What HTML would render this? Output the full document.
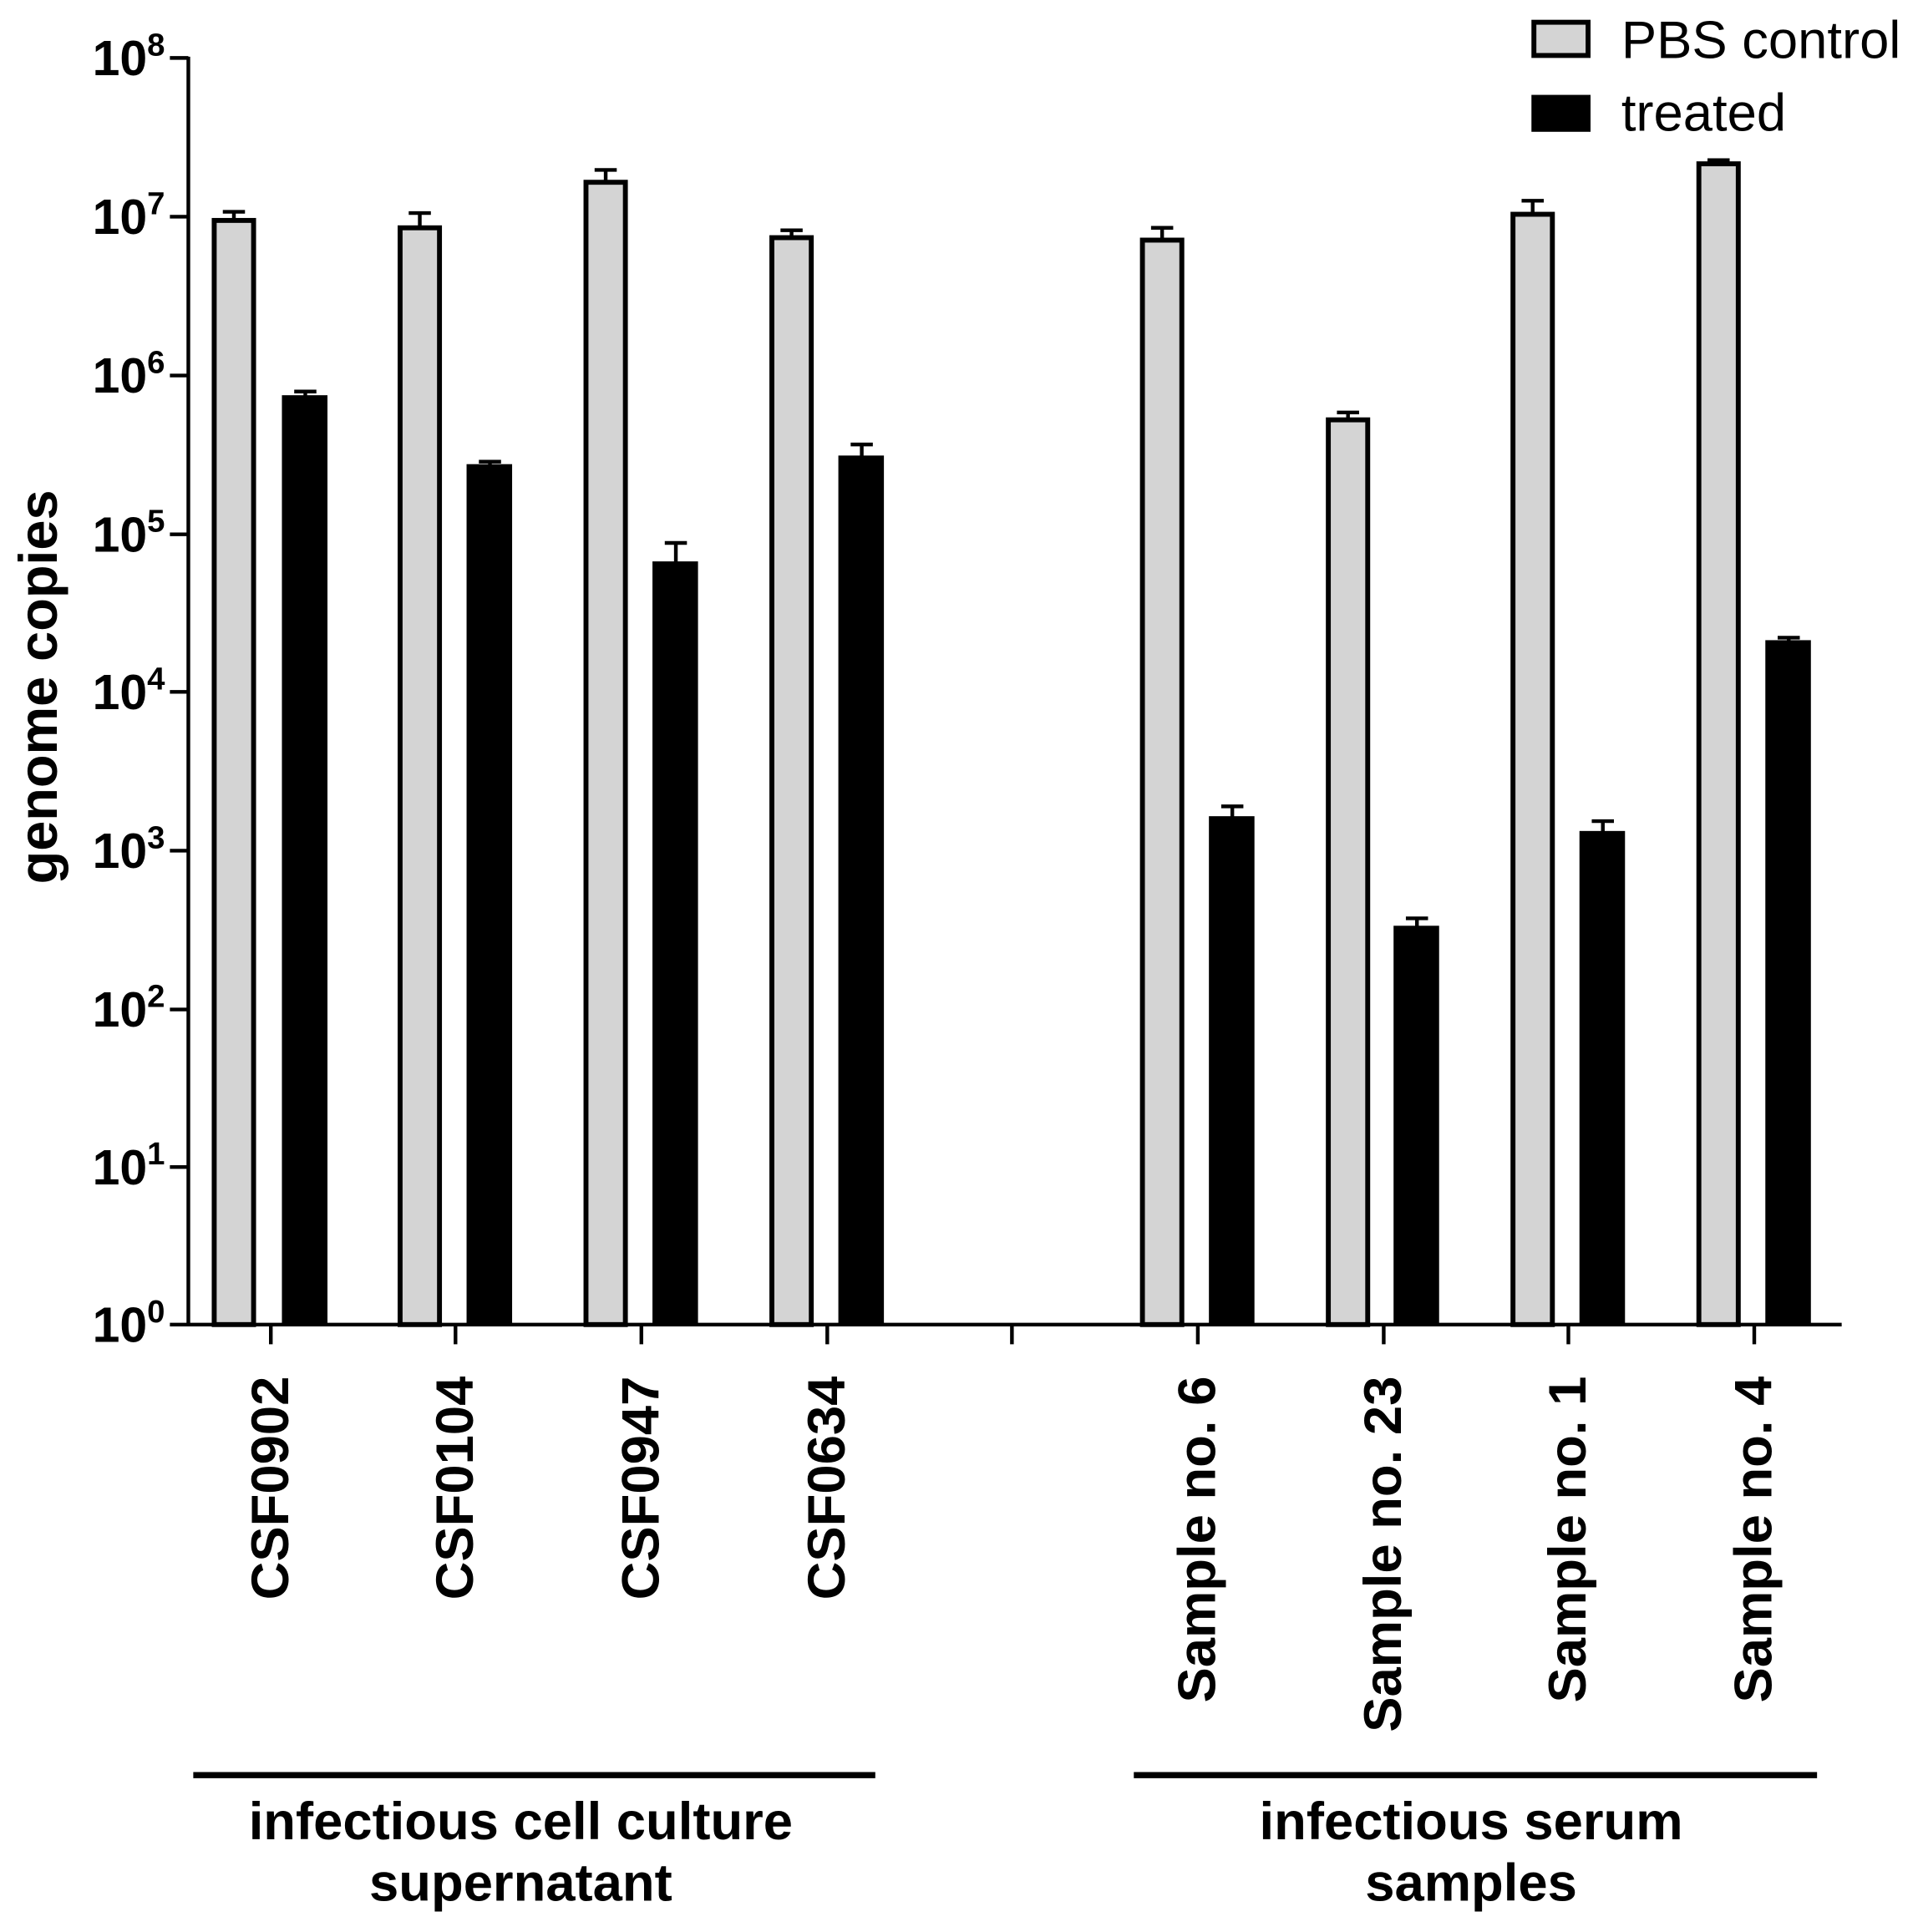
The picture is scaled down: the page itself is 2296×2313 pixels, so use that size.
<!DOCTYPE html>
<html><head><style>html,body{margin:0;padding:0;background:#fff}</style></head><body>
<svg width="2296" height="2308" viewBox="0 0 1558 1566" xmlns="http://www.w3.org/2000/svg" font-family="Liberation Sans, Arial, sans-serif">
<rect width="1558" height="1566" fill="#fff"/>
<g stroke="#000" stroke-width="3" fill="none">
<line x1="153" y1="46" x2="153" y2="1077"/>
<line x1="152" y1="1076" x2="1496" y2="1076"/>
<line x1="138" y1="47" x2="153" y2="47"/><line x1="138" y1="176" x2="153" y2="176"/>
<line x1="138" y1="305" x2="153" y2="305"/><line x1="138" y1="434" x2="153" y2="434"/>
<line x1="138" y1="562" x2="153" y2="562"/><line x1="138" y1="691" x2="153" y2="691"/>
<line x1="138" y1="820" x2="153" y2="820"/><line x1="138" y1="948" x2="153" y2="948"/>
<line x1="138" y1="1076" x2="153" y2="1076"/>
<line x1="220" y1="1076" x2="220" y2="1092"/><line x1="370" y1="1076" x2="370" y2="1092"/>
<line x1="521" y1="1076" x2="521" y2="1092"/><line x1="672" y1="1076" x2="672" y2="1092"/>
<line x1="822" y1="1076" x2="822" y2="1092"/><line x1="973" y1="1076" x2="973" y2="1092"/>
<line x1="1124" y1="1076" x2="1124" y2="1092"/><line x1="1274" y1="1076" x2="1274" y2="1092"/>
<line x1="1425" y1="1076" x2="1425" y2="1092"/>
<line x1="157" y1="1442" x2="711" y2="1442" stroke-width="5"/>
<line x1="921" y1="1442" x2="1476" y2="1442" stroke-width="5"/>
</g>
<g font-weight="bold" font-size="40" text-anchor="end" fill="#000">
<text x="134" y="61">10<tspan font-size="26" dy="-16">8</tspan></text>
<text x="134" y="190">10<tspan font-size="26" dy="-16">7</tspan></text>
<text x="134" y="319">10<tspan font-size="26" dy="-16">6</tspan></text>
<text x="134" y="448">10<tspan font-size="26" dy="-16">5</tspan></text>
<text x="134" y="576">10<tspan font-size="26" dy="-16">4</tspan></text>
<text x="134" y="705">10<tspan font-size="26" dy="-16">3</tspan></text>
<text x="134" y="834">10<tspan font-size="26" dy="-16">2</tspan></text>
<text x="134" y="962">10<tspan font-size="26" dy="-16">1</tspan></text>
<text x="134" y="1090">10<tspan font-size="26" dy="-16">0</tspan></text>
</g>
<text transform="translate(46,558) rotate(-90)" text-anchor="middle" font-weight="bold" font-size="44">genome copies</text>
<g stroke="#000" stroke-width="3">
<line x1="190" y1="172" x2="190" y2="180"/><line x1="181" y1="172" x2="199" y2="172"/>
<line x1="341" y1="173" x2="341" y2="186"/><line x1="332" y1="173" x2="350" y2="173"/>
<line x1="492" y1="138" x2="492" y2="149"/><line x1="483" y1="138" x2="501" y2="138"/>
<line x1="643" y1="187" x2="643" y2="194"/><line x1="634" y1="187" x2="652" y2="187"/>
<line x1="944" y1="185" x2="944" y2="196"/><line x1="935" y1="185" x2="953" y2="185"/>
<line x1="1095" y1="335" x2="1095" y2="342"/><line x1="1086" y1="335" x2="1104" y2="335"/>
<line x1="1245" y1="163" x2="1245" y2="175"/><line x1="1236" y1="163" x2="1254" y2="163"/>
<line x1="1396" y1="130" x2="1396" y2="134"/><line x1="1387" y1="130" x2="1405" y2="130"/>
<line x1="248" y1="318" x2="248" y2="323"/><line x1="239" y1="318" x2="257" y2="318"/>
<line x1="398" y1="375" x2="398" y2="379"/><line x1="389" y1="375" x2="407" y2="375"/>
<line x1="549" y1="441" x2="549" y2="458"/><line x1="540" y1="441" x2="558" y2="441"/>
<line x1="700" y1="361" x2="700" y2="372"/><line x1="691" y1="361" x2="709" y2="361"/>
<line x1="1001" y1="655" x2="1001" y2="665"/><line x1="992" y1="655" x2="1010" y2="655"/>
<line x1="1151" y1="746" x2="1151" y2="754"/><line x1="1142" y1="746" x2="1160" y2="746"/>
<line x1="1302" y1="667" x2="1302" y2="677"/><line x1="1293" y1="667" x2="1311" y2="667"/>
<line x1="1453" y1="518" x2="1453" y2="522"/><line x1="1444" y1="518" x2="1462" y2="518"/>
</g>
<g fill="#d4d4d4" stroke="#000" stroke-width="4">
<rect x="174" y="179" width="32" height="897"/>
<rect x="325" y="185" width="32" height="891"/>
<rect x="476" y="148" width="32" height="928"/>
<rect x="627" y="193" width="32" height="883"/>
<rect x="928" y="195" width="32" height="881"/>
<rect x="1079" y="341" width="32" height="735"/>
<rect x="1229" y="174" width="32" height="902"/>
<rect x="1380" y="133" width="32" height="943"/>
</g>
<g fill="#000">
<rect x="229" y="321" width="37" height="755"/>
<rect x="379" y="377" width="37" height="699"/>
<rect x="530" y="456" width="37" height="620"/>
<rect x="681" y="370" width="37" height="706"/>
<rect x="982" y="663" width="37" height="413"/>
<rect x="1132" y="752" width="37" height="324"/>
<rect x="1283" y="675" width="37" height="401"/>
<rect x="1434" y="520" width="37" height="556"/>
</g>
<g font-weight="bold" font-size="43" text-anchor="end">
<text transform="translate(234,1118) rotate(-90)">CSF0902</text>
<text transform="translate(384,1118) rotate(-90)">CSF0104</text>
<text transform="translate(535,1118) rotate(-90)">CSF0947</text>
<text transform="translate(686,1118) rotate(-90)">CSF0634</text>
<text transform="translate(987,1118) rotate(-90)">Sample no. 6</text>
<text transform="translate(1138,1118) rotate(-90)">Sample no. 23</text>
<text transform="translate(1288,1118) rotate(-90)">Sample no. 1</text>
<text transform="translate(1439,1118) rotate(-90)">Sample no. 4</text>
</g>
<g font-weight="bold" font-size="43" text-anchor="middle">
<text x="423" y="1494">infectious cell culture</text>
<text x="423" y="1544">supernatant</text>
<text x="1195" y="1494">infectious serum</text>
<text x="1195" y="1544">samples</text>
</g>
<rect x="1246" y="18" width="44" height="27" fill="#d4d4d4" stroke="#000" stroke-width="4"/>
<rect x="1244" y="77" width="48" height="30" fill="#000"/>
<text x="1317" y="47" font-size="43">PBS control</text>
<text x="1317" y="106" font-size="43">treated</text>
</svg>
</body></html>
